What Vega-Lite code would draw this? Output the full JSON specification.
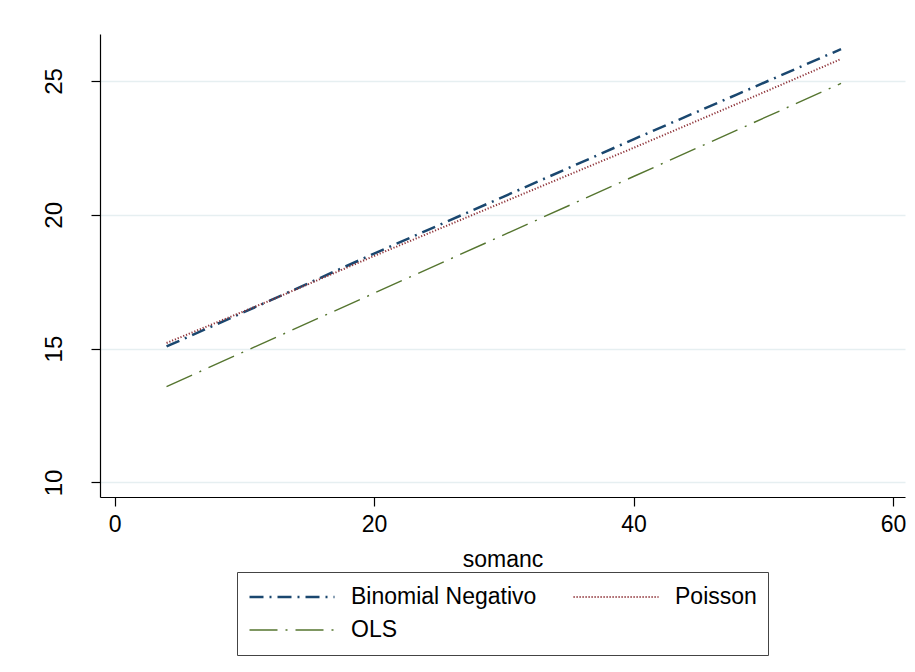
{
  "$schema": "https://vega.github.io/schema/vega-lite/v6.json",
  "width": 805,
  "height": 463,
  "autosize": "none",
  "padding": {"left": 100, "top": 34, "right": 10, "bottom": 175},
  "background": "white",
  "config": {
    "font": "Liberation Sans",
    "view": {"stroke": null}
  },
  "data": {
    "values": [
      {"somanc": 4, "pred": 15.08, "model": "Binomial Negativo"},
      {"somanc": 12, "pred": 16.8, "model": "Binomial Negativo"},
      {"somanc": 20, "pred": 18.55, "model": "Binomial Negativo"},
      {"somanc": 30, "pred": 20.68, "model": "Binomial Negativo"},
      {"somanc": 40, "pred": 22.82, "model": "Binomial Negativo"},
      {"somanc": 48, "pred": 24.5, "model": "Binomial Negativo"},
      {"somanc": 56, "pred": 26.19, "model": "Binomial Negativo"},
      {"somanc": 4, "pred": 15.21, "model": "Poisson"},
      {"somanc": 12, "pred": 16.8, "model": "Poisson"},
      {"somanc": 20, "pred": 18.46, "model": "Poisson"},
      {"somanc": 30, "pred": 20.48, "model": "Poisson"},
      {"somanc": 40, "pred": 22.5, "model": "Poisson"},
      {"somanc": 48, "pred": 24.15, "model": "Poisson"},
      {"somanc": 56, "pred": 25.82, "model": "Poisson"},
      {"somanc": 4, "pred": 13.58, "model": "OLS"},
      {"somanc": 20, "pred": 17.07, "model": "OLS"},
      {"somanc": 40, "pred": 21.43, "model": "OLS"},
      {"somanc": 56, "pred": 24.91, "model": "OLS"}
    ]
  },
  "mark": {"type": "line", "clip": true},
  "encoding": {
    "x": {
      "field": "somanc",
      "type": "quantitative",
      "scale": {"domain": [-1.13, 60.93], "nice": false, "zero": false},
      "axis": {
        "values": [0, 20, 40, 60],
        "title": "somanc",
        "grid": false,
        "domainColor": "#000000",
        "domainWidth": 1.2,
        "tickColor": "#000000",
        "tickSize": 9,
        "tickWidth": 1.2,
        "labelFont": "Liberation Sans",
        "labelFontSize": 23,
        "labelColor": "#000000",
        "labelPadding": 7,
        "titleFont": "Liberation Sans",
        "titleFontSize": 23,
        "titleFontWeight": "normal",
        "titleColor": "#000000",
        "titlePadding": 12
      }
    },
    "y": {
      "field": "pred",
      "type": "quantitative",
      "scale": {"domain": [9.455, 26.755], "nice": false, "zero": false},
      "axis": {
        "values": [10, 15, 20, 25],
        "title": null,
        "grid": true,
        "gridColor": "#e6eff1",
        "gridWidth": 1.5,
        "domainColor": "#000000",
        "domainWidth": 1.2,
        "tickColor": "#000000",
        "tickSize": 9,
        "tickWidth": 1.2,
        "labelAngle": -90,
        "labelAlign": "center",
        "labelBaseline": "bottom",
        "labelFont": "Liberation Sans",
        "labelFontSize": 24,
        "labelColor": "#000000",
        "labelPadding": 25
      }
    },
    "color": {
      "field": "model",
      "type": "nominal",
      "scale": {
        "domain": ["Binomial Negativo", "Poisson", "OLS"],
        "range": ["#1a476f", "#90353b", "#55752f"]
      },
      "legend": {
        "title": null,
        "orient": "none",
        "legendX": 137,
        "legendY": 538,
        "direction": "horizontal",
        "columns": 2,
        "columnPadding": 35,
        "rowPadding": 5,
        "padding": 11,
        "clipHeight": 28,
        "strokeColor": "#444444",
        "fillColor": "white",
        "symbolType": "stroke",
        "symbolSize": 7225,
        "symbolStrokeWidth": 2.6,
        "labelFont": "Liberation Sans",
        "labelFontSize": 23,
        "labelColor": "#000000",
        "labelOffset": 15,
        "labelLimit": 300
      }
    },
    "strokeDash": {
      "field": "model",
      "type": "nominal",
      "scale": {
        "domain": ["Binomial Negativo", "Poisson", "OLS"],
        "range": [[14, 6, 2, 6], [1.2, 1.8], [28, 8, 2, 8]]
      },
      "legend": null
    },
    "strokeWidth": {
      "field": "model",
      "type": "nominal",
      "scale": {
        "domain": ["Binomial Negativo", "Poisson", "OLS"],
        "range": [2.5, 1.4, 3]
      },
      "legend": null
    }
  }
}
